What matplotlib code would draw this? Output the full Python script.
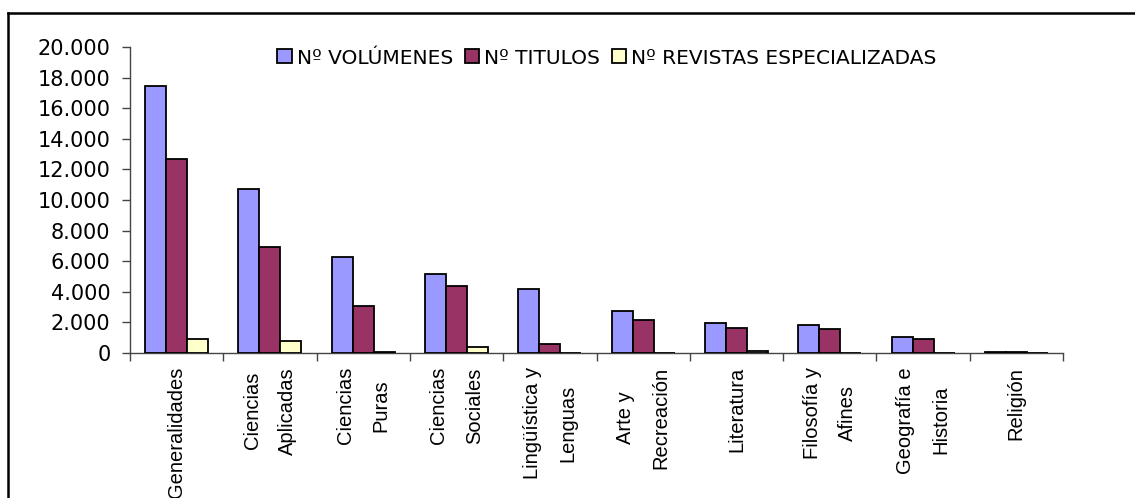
import numpy as np
import matplotlib
matplotlib.use('Agg')
import matplotlib.pyplot as plt
from matplotlib.lines import Line2D
from matplotlib.patches import Patch
from matplotlib.ticker import FuncFormatter

# Data
categorias = ['Generalidades', 'Ciencias\nAplicadas', 'Ciencias\nPuras', 'Ciencias\nSociales',
              'Lingüística y\nLenguas', 'Arte y\nRecreación', 'Literatura', 'Filosofía y\nAfines',
              'Geografía e\nHistoria', 'Religión']
volumenes = [17450, 10750, 6250, 5150, 4200, 2770, 1940, 1850, 1020, 80]
titulos = [12700, 6950, 3050, 4400, 600, 2160, 1640, 1550, 940, 80]
revistas = [900, 780, 80, 400, 0, 0, 100, 0, 0, 0]
series_names = ['Nº VOLÚMENES', 'Nº TITULOS', 'Nº REVISTAS ESPECIALIZADAS']
colors = ['#9999FF', '#993366', '#FFFFCC']

fig = plt.figure(figsize=(11.35, 4.98), dpi=100)
ax = fig.add_axes([130/1135, 1 - 353/498, (1063 - 130)/1135, (353 - 47)/498])

x = np.arange(len(categorias))
w = 0.225
for i, (vals, c) in enumerate(zip([volumenes, titulos, revistas], colors)):
    ax.bar(x + (i - 1) * w, vals, width=w, color=c, edgecolor='black', linewidth=1.3, zorder=3)

ax.set_xlim(-0.5, len(categorias) - 0.5)
ax.set_ylim(0, 20000)
ax.set_yticks(range(0, 20001, 2000))
ax.yaxis.set_major_formatter(FuncFormatter(lambda v, p: f'{int(v):,}'.replace(',', '.')))

ax.set_xticks(x)
ax.set_xticklabels(categorias, rotation=90, fontfamily='Liberation Sans', fontsize=14.5,
                   linespacing=2.1, ha='center', va='top')
ax.set_xticks(np.arange(-0.5, len(categorias)), minor=True)
ax.tick_params(axis='x', which='major', length=0, pad=10)
ax.tick_params(axis='x', which='minor', length=6, width=1, color='#444444')
ax.tick_params(axis='y', length=6, width=1, color='#444444', pad=8, labelsize=15)
for lab in ax.get_yticklabels():
    lab.set_family('DejaVu Sans')

for s in ['top', 'right']:
    ax.spines[s].set_visible(False)
for s in ['left', 'bottom']:
    ax.spines[s].set_color('#444444')
    ax.spines[s].set_linewidth(1)

handles = [Patch(facecolor=c, edgecolor='black', linewidth=1.3) for c in colors]
ax.legend(handles, series_names, loc='center', bbox_to_anchor=(607/1135, 1 - 58/498),
          bbox_transform=fig.transFigure, ncol=3, frameon=False,
          prop={'family': 'DejaVu Sans', 'size': 14.5},
          handlelength=0.7, handleheight=0.7, handletextpad=0.25, columnspacing=0.6)

# outer chart frame (top and left edges visible)
fig.add_artist(Line2D([8/1135, 8/1135], [0, 1 - 13/498], transform=fig.transFigure,
                      color='black', linewidth=1.8))
fig.add_artist(Line2D([8/1135, 1], [1 - 13/498, 1 - 13/498], transform=fig.transFigure,
                      color='black', linewidth=1.8))

plt.savefig('out.png', dpi=100)
